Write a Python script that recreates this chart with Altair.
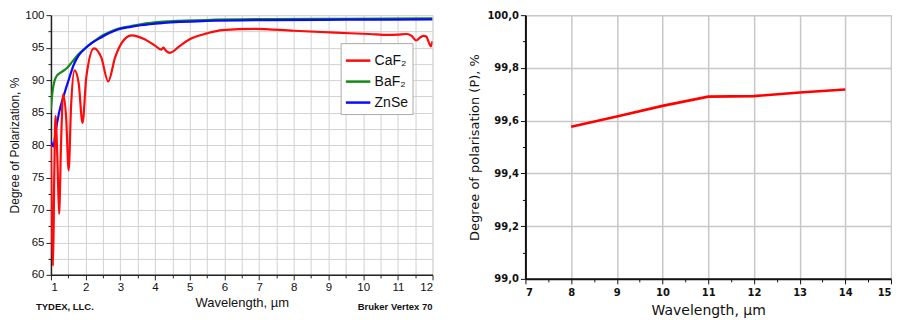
import altair as alt
import pandas as pd

# ---------------- Left panel data ----------------
materials = ["CaF₂", "BaF₂", "ZnSe"]
material_colors = ["#ff0a0a", "#138a13", "#0a0aff"]

caf2_wl = [1.0, 1.06, 1.095, 1.13, 1.185, 1.235, 1.29, 1.35, 1.44, 1.51, 1.58, 1.68,
           1.80, 1.91, 2.02, 2.24, 2.45, 2.65, 2.85, 3.05, 3.32, 3.7, 4.0, 4.18, 4.24,
           4.32, 4.43, 4.7, 5.0, 5.5, 5.94, 6.88, 8.0, 9.2, 10.17, 10.73, 11.0, 11.25,
           11.4, 11.53, 11.65, 11.75, 11.82, 11.88, 11.95, 12.0]
caf2_p = [80.0, 61.4, 75.0, 84.5, 78.0, 69.4, 80.0, 87.8, 84.0, 76.1, 86.0, 91.5,
          89.5, 83.4, 90.5, 94.9, 93.5, 89.8, 93.5, 95.8, 96.9, 96.3, 95.3, 94.7, 95.0,
          94.5, 94.2, 95.2, 96.3, 97.2, 97.7, 97.9, 97.6, 97.3, 97.1, 96.95, 97.0, 97.1,
          96.8, 96.1, 96.6, 96.8, 96.7, 96.0, 95.2, 96.0]

baf2_wl = [1.0, 1.04, 1.09, 1.15, 1.235, 1.35, 1.47, 1.61, 1.8, 1.99, 2.2, 2.46, 2.7,
           2.93, 3.3, 3.59, 4.24, 5.47, 7.35, 9.5, 12.0]
baf2_p = [85.5, 88.0, 89.6, 90.5, 91.0, 91.4, 91.9, 92.8, 94.0, 94.9, 95.8, 96.8, 97.4,
          97.9, 98.3, 98.6, 99.0, 99.25, 99.4, 99.45, 99.5]

znse_wl = [1.0, 1.04, 1.075, 1.11, 1.14, 1.235, 1.38, 1.52, 1.66, 1.8, 1.99, 2.2, 2.46,
           2.7, 2.93, 3.3, 3.59, 4.24, 5.47, 7.35, 9.5, 12.0]
znse_p = [80.6, 80.0, 79.8, 81.0, 82.2, 85.0, 87.8, 90.2, 92.4, 93.8, 94.9, 95.8, 96.6,
          97.3, 97.8, 98.2, 98.45, 98.8, 99.1, 99.25, 99.3, 99.35]

left_x_ticks = [1, 1.5, 2, 2.5, 3, 3.5, 4, 4.5, 5, 5.5, 6, 6.5, 7, 7.5, 8, 8.5, 9, 9.5,
                10, 10.5, 11, 11.5, 12]
left_y_ticks = [60, 62.5, 65, 67.5, 70, 72.5, 75, 77.5, 80, 82.5, 85, 87.5, 90, 92.5,
                95, 97.5, 100]

# ---------------- Right panel data ----------------
pol_wl = [8, 9, 10, 11, 12, 13, 14]
pol_p = [99.577, 99.616, 99.656, 99.691, 99.693, 99.707, 99.718]

right_x_ticks = [7, 7.5, 8, 8.5, 9, 9.5, 10, 10.5, 11, 11.5, 12, 12.5, 13, 13.5, 14, 14.5, 15]
right_y_ticks = [99.0, 99.1, 99.2, 99.3, 99.4, 99.5, 99.6, 99.7, 99.8, 99.9, 100.0]

# ---------------- Build tables ----------------
rows = []
for order, (name, xs, ys) in enumerate([("BaF₂", baf2_wl, baf2_p),
                                         ("ZnSe", znse_wl, znse_p),
                                         ("CaF₂", caf2_wl, caf2_p)]):
    for x, y in zip(xs, ys):
        rows.append({"material": name, "wl": x, "p": y, "ord": order})
df_left = pd.DataFrame(rows)
df_right = pd.DataFrame({"wl": pol_wl, "p": pol_p})

LW, LH = 382, 260
RW, RH = 366, 264
LFONT = "Liberation Sans"

lines = alt.Chart(df_left).mark_line(strokeWidth=2.2, interpolate="monotone", clip=True).encode(
    x=alt.X("wl:Q",
            scale=alt.Scale(domain=[1, 12], nice=False, zero=False),
            axis=alt.Axis(values=left_x_ticks,
                          labelExpr="datum.value % 1 == 0 ? format(datum.value, 'd') : ''",
                          title="Wavelength, µm", titleFontSize=13, titleFontWeight="normal",
                          titleFont=LFONT, titlePadding=3, titleColor="#111",
                          labelFont=LFONT, labelFontSize=11.5, labelColor="#111",
                          tickSize={"condition": {"test": "datum.value % 1 == 0", "value": 5}, "value": 3},
                          tickColor="#222", domainColor="#222", domainWidth=1.5,
                          gridColor="#d2d2d2", gridWidth=1)),
    y=alt.Y("p:Q",
            scale=alt.Scale(domain=[60, 100], nice=False, zero=False),
            axis=alt.Axis(values=left_y_ticks,
                          labelExpr="datum.value % 5 == 0 ? format(datum.value, 'd') : ''",
                          title="Degree of Polarization, %", titleFontSize=12,
                          titleFontWeight="normal", titleFont=LFONT, titlePadding=3,
                          titleColor="#111",
                          labelFont=LFONT, labelFontSize=11.5, labelColor="#111",
                          tickSize={"condition": {"test": "datum.value % 5 == 0", "value": 5}, "value": 3},
                          tickColor="#222", domainColor="#222", domainWidth=1.5,
                          gridColor="#d2d2d2", gridWidth=1)),
    color=alt.Color("material:N",
                    scale=alt.Scale(domain=materials, range=material_colors),
                    legend=alt.Legend(title=None, orient="none", legendX=290, legendY=28,
                                      symbolType="stroke", symbolSize=600,
                                      symbolStrokeWidth=2.5, labelFontSize=14,
                                      labelFont=LFONT, labelColor="#111",
                                      strokeColor="#aaaaaa", fillColor="white",
                                      padding=4, rowPadding=-6, labelOffset=3)),
    order=alt.Order("ord:Q"),
    detail="material:N",
)

foot_left = alt.Chart(pd.DataFrame({"t": ["TYDEX, LLC."]})).mark_text(
    align="left", baseline="middle", fontWeight="bold", fontSize=9.5, font=LFONT, color="#111"
).encode(x=alt.value(-15), y=alt.value(LH + 32), text="t:N")

foot_right = alt.Chart(pd.DataFrame({"t": ["Bruker Vertex 70"]})).mark_text(
    align="right", baseline="middle", fontWeight="bold", fontSize=9.5, font=LFONT, color="#111"
).encode(x=alt.value(LW), y=alt.value(LH + 32), text="t:N")

left = alt.layer(lines, foot_left, foot_right).properties(width=LW, height=LH)

RFONT = "DejaVu Sans"
right = alt.Chart(df_right).mark_line(strokeWidth=2.6, color="#ff0000").encode(
    x=alt.X("wl:Q",
            scale=alt.Scale(domain=[7, 15], nice=False, zero=False),
            axis=alt.Axis(values=right_x_ticks,
                          labelExpr="datum.value % 1 == 0 ? format(datum.value, 'd') : ''",
                          title="Wavelength, µm", titleFont=RFONT, titleFontSize=14,
                          titleFontWeight="normal", titlePadding=6, titleColor="#111",
                          labelFont=RFONT, labelFontSize=10, labelFontWeight="bold",
                          labelColor="#111", labelPadding=4,
                          tickSize={"condition": {"test": "datum.value % 1 == 0", "value": 5}, "value": 3},
                          gridOpacity={"condition": {"test": "datum.value % 1 == 0", "value": 1}, "value": 0},
                          tickColor="#111", domainColor="#111", domainWidth=2,
                          gridColor="#c8c8c8", gridWidth=1.5)),
    y=alt.Y("p:Q",
            scale=alt.Scale(domain=[99.0, 100.0], nice=False, zero=False),
            axis=alt.Axis(values=right_y_ticks,
                          labelExpr="round(datum.value * 10) % 2 == 0 ? replace(format(datum.value, '.1f'), '.', ',') : ''",
                          title="Degree of polarisation (P), %", titleFont=RFONT,
                          titleFontSize=13, titleFontWeight="normal", titlePadding=5,
                          titleColor="#111",
                          labelFont=RFONT, labelFontSize=10, labelFontWeight="bold",
                          labelColor="#111",
                          tickSize={"condition": {"test": "round(datum.value * 10) % 2 == 0", "value": 5}, "value": 3},
                          gridOpacity={"condition": {"test": "round(datum.value * 10) % 2 == 0", "value": 1}, "value": 0},
                          tickColor="#111", domainColor="#111", domainWidth=2,
                          gridColor="#c8c8c8", gridWidth=1.5)),
).properties(width=RW, height=RH)

chart = alt.hconcat(left, right, spacing=34).properties(padding=0).configure_view(
    stroke="#333", strokeWidth=1.2
).configure(background="white")

chart.save("out.html", embed_options={"renderer": "svg", "actions": False})
